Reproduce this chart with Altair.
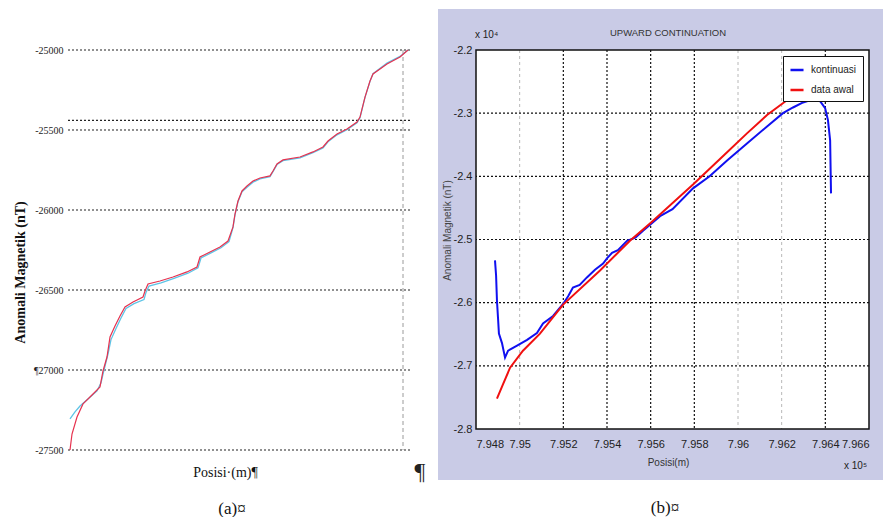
import altair as alt
import pandas as pd

# ---------------- panel (a) data ----------------
a_red_pos = [2, 4, 9, 15, 25, 32, 35, 39, 42, 47, 52, 57, 65, 75, 77, 80, 92, 105, 119, 129,
             132, 142, 152, 160, 165, 167, 170, 174, 179, 185, 192, 202, 205, 209, 215, 232,
             245, 255, 260, 269, 279, 289, 292, 297, 302, 305, 319, 332, 340]
a_red_val = [-27500, -27400, -27294, -27212, -27150, -27106, -27006, -26919, -26794, -26725,
             -26662, -26606, -26575, -26544, -26506, -26462, -26444, -26419, -26387, -26356,
             -26294, -26262, -26231, -26194, -26106, -26025, -25944, -25881, -25850, -25819,
             -25800, -25787, -25756, -25712, -25687, -25669, -25637, -25606, -25569, -25525,
             -25494, -25450, -25419, -25294, -25194, -25150, -25087, -25044, -25000]
a_cyan_pos = [2, 7, 12, 20, 29, 33, 36, 40, 43, 48, 53, 58, 66, 76, 78, 81, 93, 106, 120, 130,
              133, 143, 153, 161, 165, 167, 170, 174, 179, 185, 192, 202, 205, 209, 215, 232,
              245, 255, 260, 269, 279, 289, 292, 297, 302, 305, 319, 332, 340]
a_cyan_val = [-27306, -27262, -27225, -27181, -27131, -27080, -27000, -26900, -26810, -26740,
              -26675, -26615, -26585, -26560, -26515, -26475, -26455, -26428, -26395, -26362,
              -26300, -26268, -26236, -26198, -26110, -26030, -25948, -25886, -25858, -25826,
              -25806, -25791, -25760, -25716, -25692, -25674, -25642, -25612, -25574, -25530,
              -25498, -25455, -25424, -25296, -25196, -25148, -25082, -25040, -25000]
a_yticks = [-25000, -25500, -26000, -26500, -27000, -27500]
a_extra_grid = [-25440]
a_vline = [335]

# ---------------- panel (b) data ----------------
b_blue_x = [7.94887, 7.94892, 7.94896, 7.94901, 7.94905, 7.94919, 7.94933, 7.94947, 7.94988,
            7.95034, 7.95079, 7.95107, 7.95153, 7.95199, 7.95222, 7.95244, 7.95275, 7.95308,
            7.95345, 7.95382, 7.95400, 7.95423, 7.95450, 7.95492, 7.95530, 7.95565, 7.95643,
            7.95700, 7.95794, 7.95870, 7.95950, 7.96041, 7.96133, 7.96206, 7.96252, 7.96298,
            7.96344, 7.96376, 7.96399, 7.96412, 7.96422, 7.96426]
b_blue_y = [-2.533, -2.557, -2.597, -2.625, -2.649, -2.664, -2.687, -2.676, -2.668,
            -2.659, -2.648, -2.633, -2.621, -2.602, -2.590, -2.576, -2.572, -2.560,
            -2.548, -2.538, -2.530, -2.521, -2.517, -2.502, -2.497, -2.486, -2.463,
            -2.452, -2.419, -2.400, -2.375, -2.348, -2.321, -2.300, -2.291, -2.283,
            -2.278, -2.281, -2.292, -2.311, -2.343, -2.427]
b_red_x = [7.94896, 7.94924, 7.94956, 7.95015, 7.95093, 7.95199, 7.95368, 7.95505, 7.95602,
           7.95794, 7.95950, 7.96041, 7.96133, 7.96238]
b_red_y = [-2.752, -2.729, -2.703, -2.676, -2.649, -2.603, -2.549, -2.502, -2.473,
           -2.413, -2.362, -2.332, -2.303, -2.276]
b_yticks = [-2.2, -2.3, -2.4, -2.5, -2.6, -2.7, -2.8]
b_xticks = [7.948, 7.950, 7.952, 7.954, 7.956, 7.958, 7.960, 7.962, 7.964, 7.966]
b_grid_y = [-2.3, -2.4, -2.5, -2.6, -2.7]
b_grid_dark_x = [7.952, 7.954, 7.956, 7.958, 7.964]
b_grid_light_x = [7.950, 7.960, 7.962]
b_series = ["kontinuasi", "data awal"]

one = pd.DataFrame({"k": [0]})
serif = "Liberation Serif"
sans = "Liberation Sans"

# ================= panel (a) =================
AW, AH = 342, 400
ax = alt.Scale(domain=[0, 342], nice=False, zero=False)
ay = alt.Scale(domain=[-27500, -25000], nice=False, zero=False)

axA_y = alt.Axis(
    values=a_yticks, grid=False, domain=False, ticks=False, zindex=1,
    labelFont=serif, labelFontSize=10, labelColor="#222", labelPadding=5,
    labelExpr="datum.value == -27000 ? '¶27000' : '-' + format(abs(datum.value), 'd')",
    title="Anomali Magnetik (nT)", titleFont=serif, titleFontSize=14,
    titleFontWeight="bold", titleColor="#111", titleX=-48, titleY=222,
    titleBaseline="middle")
axA_x = alt.Axis(
    labels=False, ticks=False, domain=False, grid=False, zindex=1,
    title="Posisi·(m)¶", titleFont=serif, titleFontSize=14, titleFontWeight="normal",
    titleColor="#111", titleX=157, titleY=22, titleBaseline="middle")

frameA = alt.Chart(one).mark_rect(fill="white").encode(
    x=alt.value(-68), x2=alt.value(370), y=alt.value(-37), y2=alt.value(434))

gridA = alt.Chart(pd.DataFrame({"val": a_yticks + a_extra_grid})).mark_rule(
    color="#222", strokeDash=[2, 2], strokeWidth=1.2).encode(
    y=alt.Y("val:Q", scale=ay, axis=axA_y))

vlineA = alt.Chart(pd.DataFrame({"pos": a_vline})).mark_rule(
    color="#9a9a9a", strokeDash=[4, 3], strokeWidth=1).encode(
    x=alt.X("pos:Q", scale=ax, axis=axA_x))

dfa_c = pd.DataFrame({"pos": a_cyan_pos, "val": a_cyan_val})
dfa_r = pd.DataFrame({"pos": a_red_pos, "val": a_red_val})
cyanA = alt.Chart(dfa_c).mark_line(color="#5ec4e6", strokeWidth=1.3).encode(
    x=alt.X("pos:Q", scale=ax, axis=axA_x), y=alt.Y("val:Q", scale=ay, axis=axA_y))
redA = alt.Chart(dfa_r).mark_line(color="#e6324f", strokeWidth=1.2).encode(
    x=alt.X("pos:Q", scale=ax, axis=axA_x), y=alt.Y("val:Q", scale=ay, axis=axA_y))

capA = alt.Chart(one).mark_text(text="(a)¤", font=serif, fontSize=17, color="#111",
                                align="center", baseline="middle").encode(
    x=alt.value(164), y=alt.value(459))
pilcrow = alt.Chart(one).mark_text(text="¶", font=serif, fontSize=24, color="#222",
                                   align="center", baseline="middle").encode(
    x=alt.value(352), y=alt.value(422))

panelA = alt.layer(frameA, gridA, vlineA, cyanA, redA, capA, pilcrow).properties(
    width=AW, height=AH)

# ================= panel (b) =================
BW, BH = 393, 379
bx = alt.Scale(domain=[7.948, 7.966], nice=False, zero=False)
by = alt.Scale(domain=[-2.8, -2.2], nice=False, zero=False)

axB_y = alt.Axis(
    values=b_yticks, grid=False, domain=False, ticks=False, zindex=1,
    labelFont=sans, labelFontSize=11, labelColor="#222", labelPadding=4,
    labelExpr="'-' + format(abs(datum.value), '.1f')",
    title="Anomali Magnetik (nT)", titleFont=sans, titleFontSize=10,
    titleFontWeight="normal", titleColor="#444", titleX=-29, titleY=180,
    titleBaseline="middle")
axB_x = alt.Axis(
    values=b_xticks, grid=False, domain=False, ticks=False, zindex=1,
    labelFont=sans, labelFontSize=11, labelColor="#222", labelPadding=9,
    labelExpr="format(datum.value, '.3~f')",
    title="Posisi(m)", titleFont=sans, titleFontSize=10, titleFontWeight="normal",
    titleColor="#333", titleX=192, titleY=33, titleBaseline="middle")

lav = alt.Chart(one).mark_rect(fill="#c9cbe6").encode(
    x=alt.value(-38), x2=alt.value(407), y=alt.value(-41), y2=alt.value(430))
whiteB = alt.Chart(one).mark_rect(fill="white").encode(
    x=alt.value(0), x2=alt.value(BW), y=alt.value(0), y2=alt.value(BH))

gridBy = alt.Chart(pd.DataFrame({"y": b_grid_y})).mark_rule(
    color="#111", strokeDash=[2, 2], strokeWidth=1.2).encode(
    y=alt.Y("y:Q", scale=by, axis=axB_y))
gridBxd = alt.Chart(pd.DataFrame({"x": b_grid_dark_x})).mark_rule(
    color="#111", strokeDash=[2, 2], strokeWidth=1.2).encode(
    x=alt.X("x:Q", scale=bx, axis=axB_x))
gridBxl = alt.Chart(pd.DataFrame({"x": b_grid_light_x})).mark_rule(
    color="#b8b8b8", strokeDash=[3, 3], strokeWidth=1).encode(
    x=alt.X("x:Q", scale=bx, axis=axB_x))

dfb = pd.DataFrame({
    "x": b_blue_x + b_red_x,
    "y": b_blue_y + b_red_y,
    "s": [b_series[0]] * len(b_blue_x) + [b_series[1]] * len(b_red_x),
    "i": list(range(len(b_blue_x))) + list(range(len(b_red_x))),
})
linesB = alt.Chart(dfb).mark_line(strokeWidth=2).encode(
    x=alt.X("x:Q", scale=bx, axis=axB_x),
    y=alt.Y("y:Q", scale=by, axis=axB_y),
    order="i:Q",
    color=alt.Color("s:N", sort=b_series,
                    scale=alt.Scale(domain=b_series, range=["#1010f0", "#f01010"]),
                    legend=alt.Legend(orient="top-right", offset=6, title=None,
                                      fillColor="white", strokeColor="#111", padding=6,
                                      labelFont=sans, labelFontSize=10, labelColor="#222",
                                      labelOffset=6, symbolType="stroke",
                                      symbolStrokeWidth=2.5, symbolSize=170, rowPadding=7)))

frameB = alt.Chart(one).mark_rect(fill="white", fillOpacity=0, stroke="#111",
                                  strokeWidth=1.5).encode(
    x=alt.value(0), x2=alt.value(BW), y=alt.value(0), y2=alt.value(BH))

titleB = alt.Chart(one).mark_text(text="UPWARD CONTINUATION", font=sans, fontSize=9.5,
                                  color="#333", align="center", baseline="middle").encode(
    x=alt.value(192), y=alt.value(-17))
exp4 = alt.Chart(one).mark_text(text="x 10⁴", font=sans, fontSize=10, color="#222",
                                align="left", baseline="middle").encode(
    x=alt.value(-1), y=alt.value(-15))
exp5 = alt.Chart(one).mark_text(text="x 10⁵", font=sans, fontSize=10, color="#222",
                                align="left", baseline="middle").encode(
    x=alt.value(368), y=alt.value(416))
capB = alt.Chart(one).mark_text(text="(b)¤", font=serif, fontSize=17, color="#111",
                                align="center", baseline="middle").encode(
    x=alt.value(189), y=alt.value(458))

panelB = alt.layer(lav, whiteB, gridBxl, gridBxd, gridBy, linesB, frameB,
                   titleB, exp4, exp5, capB).properties(width=BW, height=BH)

chart = alt.hconcat(panelA, panelB, spacing=0).resolve_scale(
    x="independent", y="independent", color="independent").properties(
    padding={"left": 0, "top": 9, "right": 0, "bottom": 0},
    background="white").configure_view(stroke=None)

chart.save("out.html", embed_options={"renderer": "svg", "actions": False})
